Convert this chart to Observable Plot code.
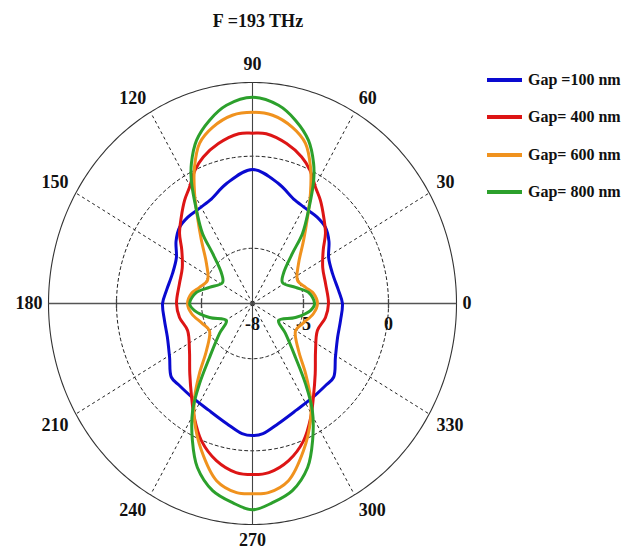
<!DOCTYPE html>
<html><head><meta charset="utf-8">
<script src="https://cdn.jsdelivr.net/npm/d3@7"></script>
<script src="https://cdn.jsdelivr.net/npm/@observablehq/plot@0.6"></script>
<style>
body{margin:0;background:#fff;}
#wrap{position:relative;width:621px;height:552px;font-family:"Liberation Serif","Times New Roman",serif;font-weight:bold;color:#111;}
#wrap svg{position:absolute;left:0;top:0;}
#title{position:absolute;left:0;width:516px;top:8px;text-align:center;font-size:18px;line-height:26px;}
.leg{position:absolute;left:487px;height:20px;line-height:20px;font-size:16px;display:flex;align-items:center;white-space:nowrap;}
.sw{display:inline-block;width:35px;height:4px;margin-right:6px;}
</style></head><body>
<div id="wrap"><div id="title"></div></div>
<script>
// ---- data ----
const titleText = "F =193 THz";
const gapLabels = ["Gap =100 nm", "Gap= 400 nm", "Gap= 600 nm", "Gap= 800 nm"];
const gapColors = ["#0a0ad0", "#dd1515", "#f0921e", "#2ca02c"];

const angles100 = [0,8,19,29,37,44,51,57,66,77,90,103,114,123,129,136,143,151,161,172,180,190,200,211,220,226,235,246,257,265,270,275,283,294,305,314,320,329,340,350];
const gain100 = [-2.71,-2.89,-3.02,-2.88,-2.37,-2.04,-1.96,-1.97,-1.86,-1.30,-0.72,-1.30,-1.86,-1.97,-1.96,-2.04,-2.37,-2.88,-3.02,-2.89,-2.71,-2.74,-2.67,-2.31,-1.77,-1.81,-1.79,-1.66,-1.30,-0.91,-0.83,-0.91,-1.30,-1.66,-1.79,-1.81,-1.77,-2.31,-2.67,-2.74];

const angles400 = [0,14,25,35,41.5,48,54.5,59.5,65,70,77,85,90,95,103,110,115,120.5,125.5,132,138.5,145,155,166,180,190,201,214.5,226,235,241,248,256,264,270,276,284,292,299,305,314,325.5,339,350];
const gain400 = [-3.53,-3.57,-3.44,-2.92,-2.27,-1.73,-1.12,-0.69,-0.01,0.46,0.91,1.25,1.25,1.25,0.91,0.46,-0.01,-0.69,-1.12,-1.73,-2.27,-2.92,-3.44,-3.57,-3.53,-3.64,-3.91,-3.50,-2.69,-1.76,-0.93,0.03,0.79,1.23,1.29,1.23,0.79,0.03,-0.93,-1.76,-2.69,-3.50,-3.91,-3.64];

const angles600 = [0,8.6,15.6,25.3,38.7,48.7,55.3,60.3,65.2,70.3,76.2,83.4,90,96.6,103.8,109.7,114.8,119.7,124.7,131.3,141.3,154.7,164.4,171.4,180,188.6,200.3,210.2,223.3,230.6,236.3,241.8,249.4,257.6,264.8,270,275.2,282.4,290.6,298.2,303.7,309.4,316.7,329.8,339.7,351.4];
const gain600 = [-4.18,-4.37,-4.76,-5.07,-4.53,-3.45,-2.32,-1.12,0.14,1.24,1.85,2.29,2.38,2.29,1.85,1.24,0.14,-1.12,-2.32,-3.45,-4.53,-5.07,-4.76,-4.37,-4.18,-4.37,-4.86,-5.07,-4.28,-3.08,-1.86,-0.78,0.53,1.85,2.31,2.33,2.31,1.85,0.53,-0.78,-1.86,-3.08,-4.28,-5.07,-4.86,-4.37];

const angles800 = [0,10.3,19,33,41.8,49.2,52.3,56.9,61.7,64.7,69.6,75.7,81.9,90,98.1,104.3,110.4,115.3,118.3,123.1,127.7,130.8,138.2,147,161,169.7,180,186.4,196.7,211,220,229.2,234.4,238.8,244.6,250,257,263.8,270,276.2,283,290,295.4,301.2,305.6,310.8,320,329,343.3,353.6];
const gain800 = [-4.35,-4.65,-5.32,-5.90,-5.56,-4.41,-3.19,-1.97,-0.41,0.41,1.45,2.26,2.87,3.20,2.87,2.26,1.45,0.41,-0.41,-1.97,-3.19,-4.41,-5.56,-5.90,-5.32,-4.65,-4.30,-4.57,-5.36,-6.21,-5.47,-4.13,-2.65,-1.20,0.24,1.48,2.43,2.88,3.20,2.88,2.43,1.48,0.24,-1.20,-2.65,-4.13,-5.47,-6.21,-5.36,-4.57];

const angleTicks = [0,30,60,90,120,150,180,210,240,270,300,330];
const radialTicks = [-8,-5,0];
const rMin = -8, rMax = 4;

// ---- build ----
const series = [
  {label: gapLabels[0], angles: angles100, gain: gain100},
  {label: gapLabels[1], angles: angles400, gain: gain400},
  {label: gapLabels[2], angles: angles600, gain: gain600},
  {label: gapLabels[3], angles: angles800, gain: gain800}
];
const rad = d => d * Math.PI / 180;
const polar = (deg, v) => ({x: (v - rMin) * Math.cos(rad(deg)), y: (v - rMin) * Math.sin(rad(deg))});

const rows = [];
series.forEach(s => s.angles.forEach((a, i) => rows.push({gap: s.label, ...polar(a, s.gain[i])})));

const ringVals = radialTicks.filter(v => v > rMin);
const ringRows = [];
ringVals.forEach(v => d3.range(0, 360, 2).forEach(a => ringRows.push({ring: v, ...polar(a, v)})));
const outerRows = d3.range(0, 360, 1).map(a => polar(a, rMax));
const spokeRows = angleTicks.filter(a => a % 90 !== 0).map(a => polar(a, rMax));
const Rfull = rMax - rMin;

const labRows = angleTicks.map(a => {
  const c = Math.cos(rad(a)), s = Math.sin(rad(a));
  const r = (a % 180 === 0) ? Rfull + 0.35 : (a === 90 ? Rfull + 0.7 : (a === 270 ? Rfull + 0.5 : Rfull + 0.5));
  return {a, x: r * c, y: r * s,
    ta: c > 0.3 ? "start" : c < -0.3 ? "end" : "middle",
    la: s > 0.3 ? "bottom" : s < -0.3 ? "top" : "middle"};
});
const labelMarks = [];
for (const ta of ["start", "middle", "end"]) for (const la of ["top", "middle", "bottom"]) {
  const sub = labRows.filter(d => d.ta === ta && d.la === la);
  if (sub.length) labelMarks.push(Plot.text(sub, {x: "x", y: "y", text: d => String(d.a), textAnchor: ta, lineAnchor: la,
    fontSize: 18, fontWeight: "bold", fontFamily: "Liberation Serif, Times New Roman, serif", fill: "#111"}));
}

const tickRows = [-8, -3, 3, 8];

const chart = Plot.plot({
  width: 621, height: 552,
  marginLeft: 48, marginRight: 165, marginTop: 82, marginBottom: 28,
  x: {domain: [-Rfull, Rfull], axis: null},
  y: {domain: [-Rfull, Rfull], axis: null},
  color: {domain: gapLabels, range: gapColors},
  style: {background: "transparent", overflow: "visible"},
  marks: [
    Plot.line(ringRows, {x: "x", y: "y", z: "ring", curve: "linear-closed", stroke: "#222", strokeWidth: 1, strokeDasharray: "3,3"}),
    Plot.link(spokeRows, {x1: d => 0, y1: d => 0, x2: "x", y2: "y", stroke: "#222", strokeWidth: 1, strokeDasharray: "3,3"}),
    Plot.line(outerRows, {x: "x", y: "y", curve: "linear-closed", stroke: "#333", strokeWidth: 1.1}),
    Plot.link([{x1: -Rfull, y1: 0, x2: Rfull, y2: 0}], {x1: "x1", y1: "y1", x2: "x2", y2: "y2", stroke: "#555", strokeWidth: 1.6}),
    Plot.link([{x1: 0, y1: -Rfull, x2: 0, y2: Rfull}], {x1: "x1", y1: "y1", x2: "x2", y2: "y2", stroke: "#444", strokeWidth: 1.1}),
    Plot.link(tickRows, {x1: d => d, x2: d => d, y1: d => -0.25, y2: d => 0.25, stroke: "#444", strokeWidth: 1.3}),
    Plot.text(radialTicks, {x: d => d - rMin, y: d => 0, dy: 21, text: d => String(d), fontSize: 18, fontWeight: "bold",
      fontFamily: "Liberation Serif, Times New Roman, serif", fill: "#111"}),
    ...labelMarks,
    Plot.line(rows, {x: "x", y: "y", z: "gap", stroke: "gap", curve: "catmull-rom-closed", strokeWidth: 3})
  ]
});
const wrap = document.getElementById("wrap");
wrap.appendChild(chart);
document.getElementById("title").textContent = titleText;

const legendY = [80, 117, 155, 192];
gapLabels.forEach((g, i) => {
  const d = document.createElement("div");
  d.className = "leg";
  d.style.top = (legendY[i] - 10) + "px";
  const sw = document.createElement("span");
  sw.className = "sw";
  sw.style.background = gapColors[i];
  d.appendChild(sw);
  d.appendChild(document.createTextNode(g));
  wrap.appendChild(d);
});
</script>
</body></html>
